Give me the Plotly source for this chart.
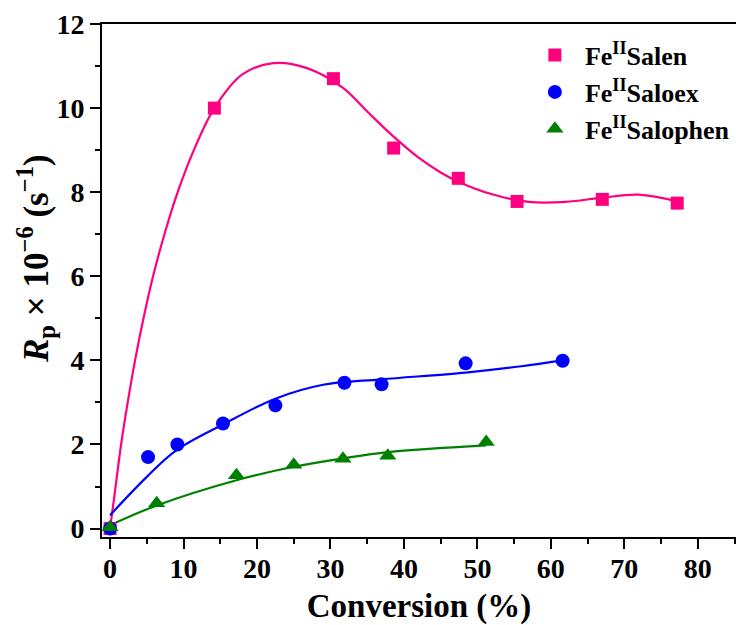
import plotly.graph_objects as go

# ---- measured data points ----
salen_x = [0, 14.2, 30.4, 38.6, 47.4, 55.4, 67.0, 77.2]
salen_y = [0, 10.0, 10.7, 9.05, 8.33, 7.78, 7.83, 7.74]

saloex_x = [0, 5.17, 9.16, 15.37, 22.5, 31.9, 36.96, 48.4, 61.6]
saloex_y = [0, 1.70, 2.00, 2.50, 2.93, 3.47, 3.43, 3.93, 3.99]

salophen_x = [0, 6.35, 17.2, 25.0, 31.7, 37.8, 51.2]
salophen_y = [0.03, 0.60, 1.27, 1.52, 1.66, 1.73, 2.06]

# ---- fitted-curve nodes ----
salen_fit_x = [0, 0.75, 1.5, 2.4, 3.4, 4.55, 5.85, 7.4, 9.2, 11.4, 14.2, 18.0, 22.2, 26.8, 31.7, 35.0, 38.6, 42.0, 45.0, 47.4, 52.0, 57.0, 62.0, 67.0, 72.0, 77.2]
salen_fit_y = [0.0, 1.0, 2.0, 3.0, 4.0, 5.0, 6.0, 7.0, 8.0, 9.0, 10.0, 10.8, 11.07, 10.95, 10.48, 9.92, 9.32, 8.82, 8.47, 8.25, 7.95, 7.77, 7.77, 7.87, 7.94, 7.78]

saloex_fit_x = [0, 5.0, 9.0, 15.4, 22.5, 29.0, 36.96, 48.4, 56.0, 61.6]
saloex_fit_y = [0.32, 1.23, 1.86, 2.48, 3.09, 3.42, 3.55, 3.71, 3.86, 4.0]

salophen_fit_x = [0, 6.35, 17.2, 25.0, 31.7, 37.8, 51.2]
salophen_fit_y = [0.08, 0.55, 1.15, 1.47, 1.67, 1.82, 1.98]

names = ["Fe<sup>II</sup>Salen", "Fe<sup>II</sup>Saloex", "Fe<sup>II</sup>Salophen"]
colors = ["#FF0080", "#0000FF", "#008000"]
symbols = ["square", "circle", "triangle-up"]
sizes = [13, 14, 15]

FONT = "Liberation Serif"

fig = go.Figure()
fits = [(salen_fit_x, salen_fit_y), (saloex_fit_x, saloex_fit_y), (salophen_fit_x, salophen_fit_y)]
pts = [(salen_x, salen_y), (saloex_x, saloex_y), (salophen_x, salophen_y)]

for (fx, fy), c in zip(fits, colors):
    fig.add_trace(go.Scatter(x=fx, y=fy, mode="lines", line=dict(color=c, width=2.2, shape="spline", smoothing=1.0),
                             showlegend=False, hoverinfo="skip"))

for i, ((px, py), c) in enumerate(zip(pts, colors)):
    fig.add_trace(go.Scatter(x=px, y=py, mode="markers", name="<b>" + names[i] + "</b>", legendgroup=str(i),
                             marker=dict(color=c, symbol=symbols[i], size=sizes[i], line=dict(width=0))))

fig.add_annotation(
    text="<b><i>R</i><sub>p</sub> × 10<sup>−6</sup> (s<sup>−1</sup>)</b>",
    xref="paper", yref="paper", x=-0.104, y=0.542, xanchor="center", yanchor="middle",
    textangle=-90, showarrow=False, font=dict(family=FONT, size=35, color="black"))

fig.update_layout(
    width=736, height=625,
    margin=dict(l=102, r=0, t=24, b=88),
    paper_bgcolor="white", plot_bgcolor="white",
    font=dict(family=FONT, color="black", size=28),
    legend=dict(x=0.667, y=0.985, xanchor="left", yanchor="top", bgcolor="rgba(0,0,0,0)", itemwidth=50,
                font=dict(family=FONT, size=26, color="black"), traceorder="grouped", tracegroupgap=0),
    xaxis=dict(range=[-1.1, 85.2], tickmode="linear", tick0=0, dtick=10,
               showline=True, linecolor="black", linewidth=2, mirror=True,
               ticks="outside", ticklen=10, tickwidth=2, tickcolor="black",
               minor=dict(ticks="outside", ticklen=5, tickwidth=2, tickcolor="black", dtick=5, tick0=0),
               showgrid=False, zeroline=False, ticklabelstandoff=-5,
               tickfont=dict(family=FONT, size=28, color="black", weight="bold"),
               title=dict(text="<b>Conversion (%)</b>", font=dict(family=FONT, size=33, color="black"), standoff=12)),
    yaxis=dict(range=[-0.2, 12.0], tickmode="linear", tick0=0, dtick=2,
               showline=True, linecolor="black", linewidth=2,
               ticks="outside", ticklen=10, tickwidth=2, tickcolor="black",
               minor=dict(ticks="outside", ticklen=5, tickwidth=2, tickcolor="black", dtick=1, tick0=0),
               showgrid=False, zeroline=False,
               tickfont=dict(family=FONT, size=28, color="black", weight="bold")),
)

fig.write_html("out.html")
